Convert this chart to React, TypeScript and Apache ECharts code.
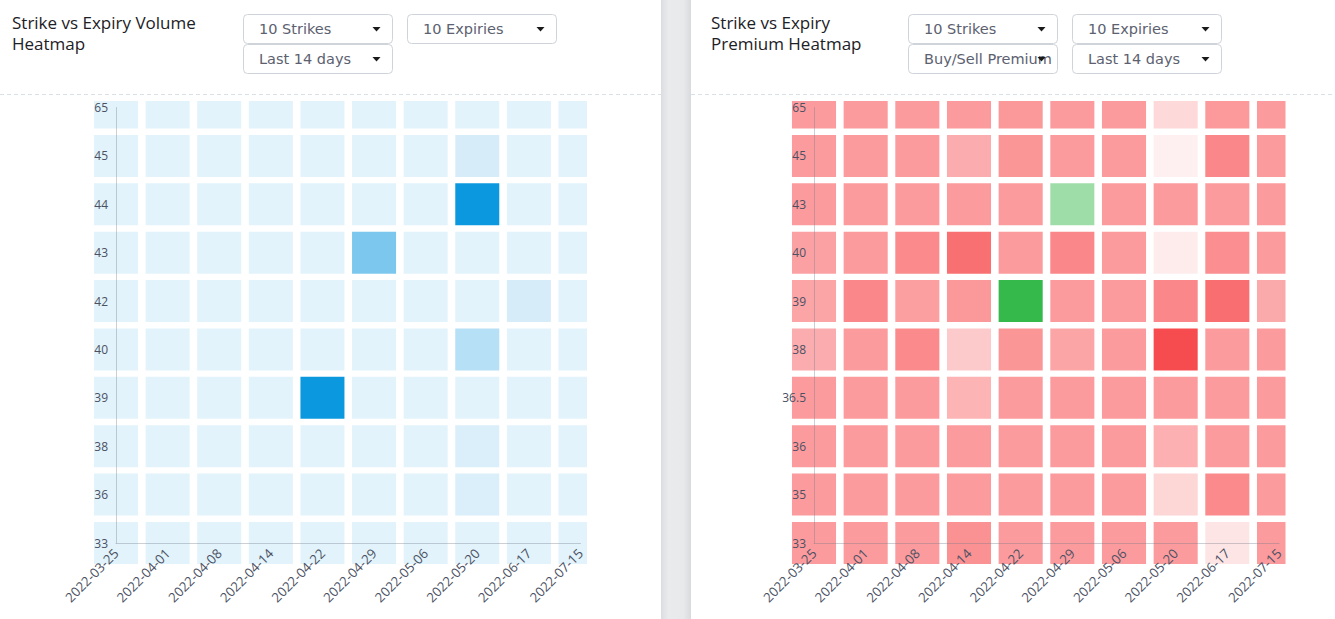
import React, { useEffect, useRef } from "react";
import * as echarts from "echarts";

const expiries = [
  "2022-03-25", "2022-04-01", "2022-04-08", "2022-04-14", "2022-04-22",
  "2022-04-29", "2022-05-06", "2022-05-20", "2022-06-17", "2022-07-15",
];

// Volume heatmap: strikes listed top to bottom
const volumeStrikes = ["65", "45", "44", "43", "42", "40", "39", "38", "36", "33"];
const volume65 = [0, 0, 0, 0, 0, 0, 0, 0, 0, 0];
const volume45 = [0, 0, 0, 0, 0, 0, 0, 6, 0, 0];
const volume44 = [0, 0, 0, 0, 0, 0, 0, 100, 0, 0];
const volume43 = [0, 0, 0, 0, 0, 48, 0, 0, 0, 0];
const volume42 = [0, 0, 0, 0, 0, 0, 0, 0, 6, 0];
const volume40 = [0, 0, 0, 0, 0, 0, 0, 21, 0, 0];
const volume39 = [0, 0, 0, 0, 100, 0, 0, 0, 0, 0];
const volume38 = [0, 0, 0, 0, 0, 0, 0, 4, 0, 0];
const volume36 = [0, 0, 0, 0, 0, 0, 0, 4, 0, 0];
const volume33 = [0, 0, 0, 0, 0, 0, 0, 0, 0, 0];

// Premium heatmap: negative = sell (red), positive = buy (green)
const premiumStrikes = ["65", "45", "43", "40", "39", "38", "36.5", "36", "35", "33"];
const premium65 = [-53, -53, -53, -53, -55, -53, -53, -20, -54, -53];
const premium45 = [-53, -53, -53, -44, -56, -53, -53, -8, -64, -53];
const premium43 = [-53, -53, -53, -53, -53, 48, -53, -53, -53, -53];
const premium40 = [-50, -53, -62, -76, -53, -64, -53, -10, -60, -53];
const premium39 = [-48, -64, -51, -55, 100, -53, -53, -64, -77, -45];
const premium38 = [-44, -53, -62, -28, -56, -48, -53, -95, -53, -53];
const premium365 = [-53, -53, -53, -40, -53, -53, -53, -53, -53, -53];
const premium36 = [-53, -53, -53, -53, -53, -53, -53, -42, -53, -53];
const premium35 = [-53, -53, -53, -53, -53, -53, -53, -22, -62, -53];
const premium33 = [-53, -53, -53, -58, -53, -53, -53, -53, -14, -53];

const volumeRows = [volume65, volume45, volume44, volume43, volume42, volume40, volume39, volume38, volume36, volume33];
const premiumRows = [premium65, premium45, premium43, premium40, premium39, premium38, premium365, premium36, premium35, premium33];

const toData = (rows: number[][]) => {
  const out: number[][] = [];
  rows.forEach((row, r) => row.forEach((v, c) => out.push([c, r, v])));
  return out;
};

const blend = (base: number[], a: number) => {
  const ch = base.map((b) => Math.round(255 - (255 - b) * a));
  return `rgb(${ch[0]},${ch[1]},${ch[2]})`;
};

const blueBase = [7, 150, 222];
const redBase = [247, 67, 70];
const greenBase = [53, 185, 74];

const volumeColor = (v: number) => blend(blueBase, 0.115 + 0.865 * (v / 100));
const premiumColor = (v: number) =>
  v >= 0 ? blend(greenBase, Math.max(0.08, v / 100)) : blend(redBase, Math.max(0.08, -v / 100));

const makeRender = (colorFn: (v: number) => string) => (params: any, api: any) => {
  const xi = api.value(0);
  const yi = api.value(1);
  const c = api.coord([xi, yi]);
  const size = api.size([1, 1]);
  const w = size[0] - 7.6;
  const h = size[1] - 6.4;
  const cs = params.coordSys;
  const rect = echarts.graphic.clipRectByRect(
    { x: c[0] - w / 2, y: c[1] - h / 2, width: w, height: h },
    { x: cs.x - 80, y: cs.y - 6.5, width: cs.width + 86.5, height: cs.height + 86.5 }
  );
  if (!rect) return null;
  return { type: "rect", shape: rect, style: { fill: colorFn(api.value(2)) } };
};

const FONT = "'Open Sans', 'Noto Sans', sans-serif";
const DD_FONT = "'DejaVu Sans', 'Open Sans', sans-serif";

const dropdown = (x: number, y: number, label: string, clip?: boolean) => [
  {
    type: "rect",
    shape: { x: x + 0.5, y: y + 0.5, width: 149, height: 29, r: 4 },
    style: { fill: "#ffffff", stroke: "#ced4da", lineWidth: 1 },
    z: 10,
  },
  {
    type: "text",
    x: x + 16,
    y: y + 15,
    style: {
      text: label,
      font: `14.5px ${DD_FONT}`,
      fill: "#5c6170",
      verticalAlign: "middle",
      width: clip ? 133 : undefined,
      overflow: clip ? "truncate" : undefined,
      ellipsis: "",
    },
    z: 11,
  },
  {
    type: "polygon",
    shape: { points: [[x + 129.5, y + 13], [x + 137.5, y + 13], [x + 133.5, y + 17.5]] },
    style: { fill: "#1a1a1a" },
    z: 12,
  },
];

const axisLabelStyle = { color: "#4b5163", fontFamily: FONT, fontSize: 12 };
const axisLineStyle = { show: true, lineStyle: { color: "rgba(110,120,135,0.35)", width: 1 } };

export default function App() {
  const ref = useRef<HTMLDivElement>(null);

  useEffect(() => {
    if (!ref.current) return;
    const chart = echarts.init(ref.current, undefined, { renderer: "svg" });
    const grids = [
      { left: 116, top: 107.5, width: 464.5, height: 435.5 },
      { left: 814, top: 107.5, width: 465, height: 435.5 },
    ];
    const xAxes = [0, 1].map((i) => ({
      type: "category",
      gridIndex: i,
      data: expiries,
      boundaryGap: false,
      z: 10,
      axisLine: axisLineStyle,
      axisTick: { show: false },
      splitLine: { show: false },
      axisLabel: { ...axisLabelStyle, rotate: 45, interval: 0, margin: 8, fontSize: 13.2 },
    }));
    const yAxes = [volumeStrikes, premiumStrikes].map((d, i) => ({
      type: "category",
      gridIndex: i,
      data: d,
      inverse: true,
      boundaryGap: false,
      z: 10,
      axisLine: axisLineStyle,
      axisTick: { show: false },
      splitLine: { show: false },
      axisLabel: { ...axisLabelStyle, interval: 0, margin: 8 },
    }));

    const graphic: any[] = [
      {
        type: "rect",
        shape: { x: 661, y: 0, width: 30, height: 619 },
        style: {
          fill: new echarts.graphic.LinearGradient(0, 0, 1, 0, [
            { offset: 0, color: "#dcdde0" },
            { offset: 0.25, color: "#eaebed" },
            { offset: 0.75, color: "#e8e9eb" },
            { offset: 1, color: "#d9dadd" },
          ]),
        },
        z: 1,
      },
      {
        type: "line",
        shape: { x1: 0, y1: 94.5, x2: 661, y2: 94.5 },
        style: { stroke: "#d8e0e8", lineWidth: 1, lineDash: [4, 3] },
      },
      {
        type: "line",
        shape: { x1: 691, y1: 94.5, x2: 1335, y2: 94.5 },
        style: { stroke: "#d8e0e8", lineWidth: 1, lineDash: [4, 3] },
      },
      {
        type: "text",
        x: 12,
        y: 12,
        style: { text: "Strike vs Expiry Volume\nHeatmap", font: `17px ${FONT}`, fill: "#1d2125", lineHeight: 21 },
      },
      {
        type: "text",
        x: 711,
        y: 12,
        style: { text: "Strike vs Expiry\nPremium Heatmap", font: `17px ${FONT}`, fill: "#1d2125", lineHeight: 21 },
      },
      ...dropdown(243, 14, "10 Strikes"),
      ...dropdown(407, 14, "10 Expiries"),
      ...dropdown(243, 44, "Last 14 days"),
      ...dropdown(908, 14, "10 Strikes"),
      ...dropdown(1072, 14, "10 Expiries"),
      ...dropdown(908, 44, "Buy/Sell Premium", true),
      ...dropdown(1072, 44, "Last 14 days"),
    ];

    chart.setOption({
      animation: false,
      grid: grids,
      xAxis: xAxes,
      yAxis: yAxes,
      graphic,
      series: [
        {
          type: "custom",
          xAxisIndex: 0,
          yAxisIndex: 0,
          silent: true,
          renderItem: makeRender(volumeColor),
          data: toData(volumeRows),
          z: 2,
        },
        {
          type: "custom",
          xAxisIndex: 1,
          yAxisIndex: 1,
          silent: true,
          renderItem: makeRender(premiumColor),
          data: toData(premiumRows),
          z: 2,
        },
      ],
    });
    return () => chart.dispose();
  }, []);

  return (
    <div
      ref={ref}
      style={{ position: "absolute", left: 0, top: 0, width: 1335, height: 619, background: "#ffffff" }}
    />
  );
}
